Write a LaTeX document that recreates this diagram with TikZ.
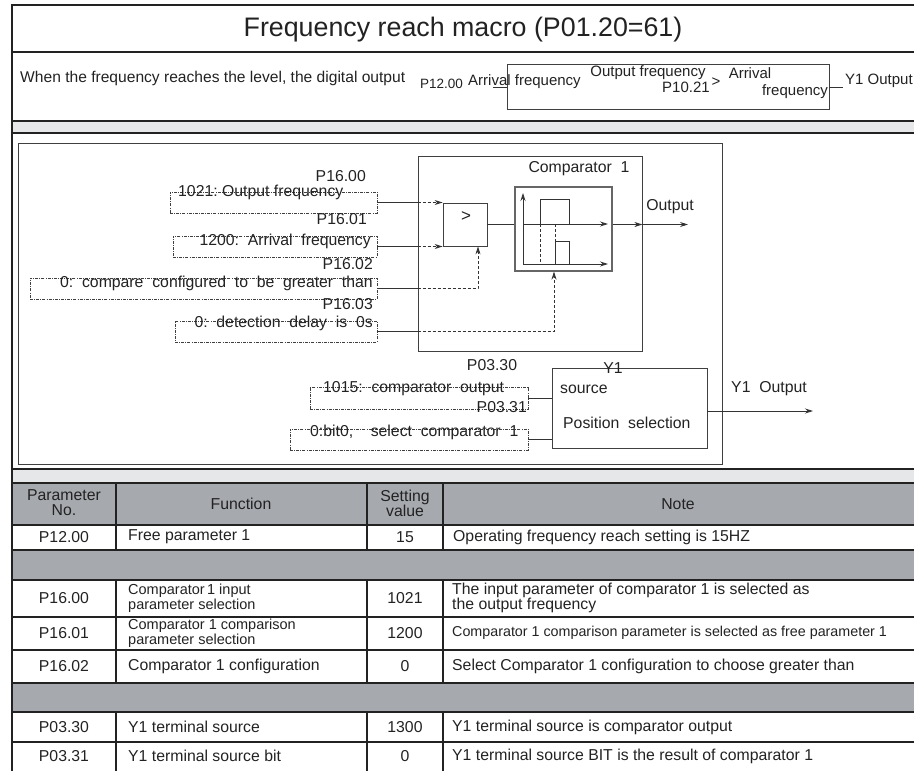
\documentclass[tikz,border=0pt]{standalone}
\usepackage{fontspec}
\setmainfont{Liberation Sans}
\usetikzlibrary{arrows.meta}
\definecolor{hdrgray}{HTML}{A6A9AE}
\definecolor{bandgray}{HTML}{E6E7E8}
\definecolor{ink}{HTML}{222222}

\begin{document}
\begin{tikzpicture}[x=1pt, y=-1pt,
  >={Stealth[length=8pt,width=5pt]},
  frame/.style={line width=1.6pt, draw=ink},
  grid/.style={line width=1.3pt, draw=ink},
  txt/.style={inner sep=0pt, text=ink, font=\fontsize{15.8}{15}\selectfont},
  mtxt/.style={txt, font=\fontsize{15}{15}\selectfont},
  small/.style={inner sep=0pt, text=ink, font=\fontsize{14.5}{13}\selectfont, align=left},
  parbox/.style={draw=black!75, dash pattern=on 3pt off 1.2pt on 0.8pt off 1.2pt,
                 line width=0.6pt, inner sep=0pt},
  blk/.style={draw=black!75, line width=0.8pt, inner sep=0pt},
  wire/.style={draw=black!80, line width=0.8pt},
  dwire/.style={wire, dash pattern=on 3pt off 2pt},
]
  \useasboundingbox (0,0) rectangle (914,771);

  % Bands and frame
  \fill[bandgray] (12,121) rectangle (914,133);
  \fill[bandgray] (12,469) rectangle (914,483);
  \fill[hdrgray] (12,483) rectangle (914,525);
  \fill[hdrgray] (12,550) rectangle (914,580);
  \fill[hdrgray] (12,683) rectangle (914,712);
  \draw[frame] (914,5) -- (12,5) -- (12,771);
  \foreach \y in {52,121,133,469,483,525,550,580,617,650,683,712,742}
    \draw[grid] (12,\y) -- (914,\y);
  \foreach \x in {116,367,443} {
    \draw[grid] (\x,483) -- (\x,550);
    \draw[grid] (\x,580) -- (\x,683);
    \draw[grid] (\x,712) -- (\x,771);
  }

  % Title
  \node[txt, font=\fontsize{26.8}{26}\selectfont] (title) at (463,30) {Frequency reach macro (P01.20=61)};

  % Summary row
  \node[txt, anchor=west, font=\fontsize{15.6}{15}\selectfont] (intro) at (20,78) {When the frequency reaches the level, the digital output};
  \node[blk, minimum width=322pt, minimum height=45pt] (mini) at (668,86.5) {};
  \node[txt, anchor=east, font=\fontsize{13.5}{13}\selectfont] (p1200) at (463,84) {P12.00};
  \node[mtxt, anchor=west] (arrfreq) at (468,82) {Arrival frequency};
  \coordinate (arrin) at (493,87);
  \draw[wire] (arrin) -- (arrin -| mini.west);
  \node[mtxt] (ofreq) at (648,73) {Output frequency};
  \node[mtxt] (gtmini) at (716,82) {>};
  \node[mtxt] (p1021) at (686,87) {P10.21};
  \node[mtxt] (arrtop) at (750,73) {Arrival};
  \node[mtxt] (freqbot) at (795,92) {frequency};
  \coordinate (yout0) at (843,87);
  \draw[wire] (mini.east |- yout0) -- (yout0);
  \node[mtxt, anchor=west] (y1out0) at (845,81) {Y1 Output};

  % Diagram panel
  \draw[blk] (18,143) rectangle (722,464);

  % Parameter boxes
  \node[parbox, minimum width=207pt, minimum height=21pt] (in1) at (273.5,202.5) {};
  \node[txt, anchor=west] (t1) at (178,192) {1021:\ Output frequency};
  \node[txt, anchor=east] (p1600) at (366,176.5) {P16.00};
  \node[parbox, minimum width=204pt, minimum height=21pt] (in2) at (275,246.5) {};
  \node[txt, anchor=east] (t2) at (371,241) {1200:\ \ Arrival\ \ frequency};
  \node[txt, anchor=east] (p1601) at (367,219) {P16.01};
  \node[parbox, minimum width=347pt, minimum height=21pt] (in3) at (203.5,288.5) {};
  \node[txt, anchor=east] (t3) at (373,283) {0:\ \ compare\ \ configured\ \ to\ \ be\ \ greater\ \ than};
  \node[txt, anchor=east] (p1602) at (373,264) {P16.02};
  \node[parbox, minimum width=202pt, minimum height=21pt] (in4) at (276,331.5) {};
  \node[txt, anchor=east] (t4) at (373,323) {0:\ \ detection\ \ delay\ \ is\ \ 0s};
  \node[txt, anchor=east] (p1603) at (373,304) {P16.03};

  % Comparator
  \node[blk, minimum width=224pt, minimum height=195pt] (comp) at (530,253.5) {};
  \node[txt] (complbl) at (579,169) {Comparator\ \ 1};
  \node[blk, minimum width=44pt, minimum height=43pt] (gt) at (465,224.5) {};
  \node[txt, font=\fontsize{17}{17}\selectfont] (gtsym) at (466,217) {>};
  \node[blk, line width=1.1pt, draw=black!60, minimum width=97pt, minimum height=84pt] (pulse) at (563.5,229) {};
  \draw[wire, ->] (523,265) -- (523,193);
  \draw[wire, ->] (523,224) -- (608,224);
  \draw[wire, ->] (523,264) -- (608,264);
  \draw[wire] (540,224) -- (540,199) -- (569,199) -- (569,224);
  \draw[wire] (555,264) -- (555,241) -- (569,241) -- (569,264);
  \draw[dwire] (540,224) -- (540,264);
  \draw[dwire] (555,224) -- (555,241);

  % Comparator inputs
  \coordinate (cfg) at (478,288.5);
  \coordinate (dly) at (554,331.5);
  \draw[wire] (in1.east) -- (in1.east -| comp.west);
  \draw[dwire, ->] (in1.east -| comp.west) -- (in1.east -| gt.west);
  \draw[wire] (in2.east) -- (in2.east -| comp.west);
  \draw[dwire, ->] (in2.east -| comp.west) -- (in2.east -| gt.west);
  \draw[wire] (in3.east) -- (in3.east -| comp.west);
  \draw[dwire, ->] (in3.east -| comp.west) -- (cfg) -- (cfg |- gt.south);
  \draw[wire] (in4.east) -- (in4.east -| comp.west);
  \draw[dwire, ->] (in4.east -| comp.west) -- (dly) -- (dly |- pulse.south);

  % Comparator output
  \coordinate (cout) at (688,224.5);
  \draw[wire] (gt.east) -- (gt.east -| pulse.west);
  \draw[wire, ->] (gt.east -| pulse.east) -- (gt.east -| comp.east);
  \draw[wire, ->] (gt.east -| comp.east) -- (cout);
  \node[txt] (outlbl) at (670,207) {Output};

  % Y1 terminal
  \node[blk, minimum width=155pt, minimum height=80pt] (y1) at (629.5,408.5) {};
  \node[txt] (y1lbl) at (613,368) {Y1};
  \node[txt, anchor=west] (srclbl) at (560,389) {source};
  \node[txt, anchor=west] (poslbl) at (563,423) {Position\ \ selection};
  \node[parbox, minimum width=218pt, minimum height=22pt] (in5) at (419,398) {};
  \node[txt, anchor=west] (t5) at (323,389) {1015:\ \ comparator\ \ output};
  \node[txt] (p0330) at (492,365) {P03.30};
  \node[parbox, minimum width=238pt, minimum height=21pt] (in6) at (409,439.5) {};
  \node[txt, anchor=west] (t6) at (310,432) {0:bit0,\ \ \ \ select\ \ comparator\ \ 1};
  \node[txt, anchor=east] (p0331) at (527,407) {P03.31};
  \draw[wire] (in5.east) -- (in5.east -| y1.west);
  \draw[wire] (in6.east) -- (in6.east -| y1.west);
  \coordinate (yout) at (813,411);
  \draw[wire, ->] (y1.east |- yout) -- (yout);
  \node[txt] (y1olbl) at (769,389) {Y1\ \ Output};

  % Table header
  \node[txt, align=center] (hpar) at (64,503) {Parameter\\No.};
  \node[txt] (hfun) at (241,504) {Function};
  \node[txt, align=center] (hset) at (405,503) {Setting\\value};
  \node[txt] (hnote) at (678,504) {Note};

  % Table rows
  \foreach \y/\pno/\val in {537/P12.00/15, 598/P16.00/1021, 633/P16.01/1200,
                           666/P16.02/0, 727/P03.30/1300, 756/P03.31/0} {
    \node[txt] (pno-\y) at (64,\y) {\pno};
    \node[txt] (val-\y) at (405,\y) {\val};
  }
  \node[txt, anchor=west] (fn-537) at (128,537) {Free parameter 1};
  \node[small, anchor=west] (fn-598) at (128,598) {Comparator\,1 input\\parameter selection};
  \node[small, anchor=west] (fn-633) at (128,633) {Comparator 1 comparison\\parameter selection};
  \node[txt, anchor=west] (fn-666) at (128,666) {Comparator 1 configuration};
  \node[txt, anchor=west] (fn-727) at (128,727) {Y1 terminal source};
  \node[txt, anchor=west] (fn-756) at (128,756) {Y1 terminal source bit};
  \node[txt, anchor=west] (nt-537) at (453,537) {Operating frequency reach setting is 15HZ};
  \node[txt, anchor=west, align=left] (nt-598) at (452,598) {The input parameter of comparator 1 is selected as\\the output frequency};
  \node[txt, anchor=west, font=\fontsize{14.3}{14}\selectfont] (nt-633) at (452,633) {Comparator 1\ comparison parameter is selected as free parameter 1};
  \node[txt, anchor=west] (nt-666) at (452,666) {Select Comparator 1 configuration to choose greater than};
  \node[txt, anchor=west] (nt-727) at (452,727) {Y1 terminal source is comparator output};
  \node[txt, anchor=west] (nt-756) at (452,756) {Y1 terminal source BIT is the result of comparator 1};
\end{tikzpicture}
\end{document}
